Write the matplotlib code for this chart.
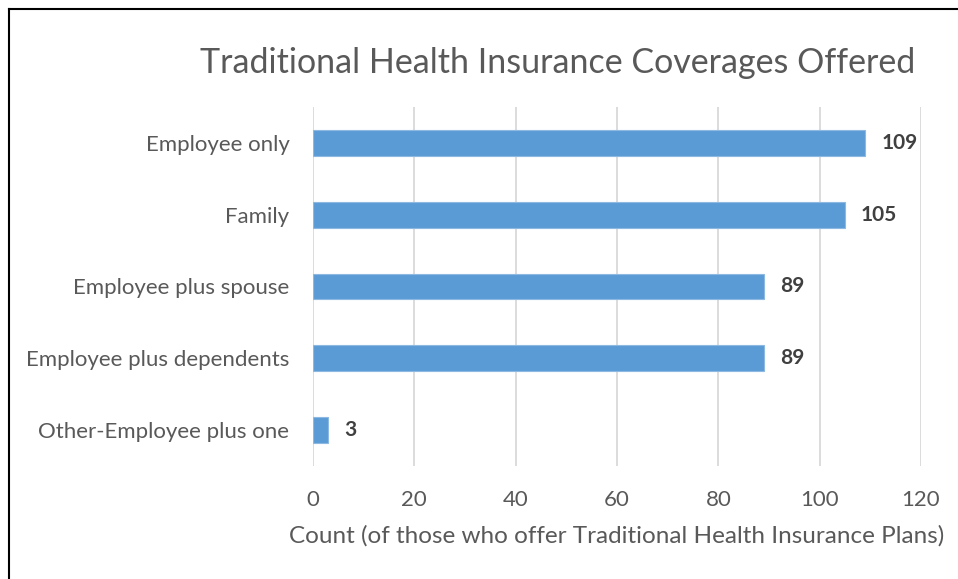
import matplotlib
matplotlib.use("Agg")
import matplotlib.pyplot as plt
from matplotlib.lines import Line2D

plt.rcParams['font.family'] = ['Lato', 'DejaVu Sans']

categories = ["Employee only", "Family", "Employee plus spouse",
              "Employee plus dependents", "Other-Employee plus one"]
counts = [109, 105, 89, 89, 3]
x_ticks = [0, 20, 40, 60, 80, 100, 120]

title = "Traditional Health Insurance Coverages Offered"
x_label = "Count (of those who offer Traditional Health Insurance Plans)"

text_gray = "#595959"
bar_blue = "#5B9BD5"

fig = plt.figure(figsize=(9.58, 5.79), dpi=100)
ax = fig.add_axes([313 / 958, 1 - 466 / 579, 608 / 958, 359 / 579])

y_pos = list(range(len(categories)))
ax.barh(y_pos, counts, height=0.36, color=bar_blue, edgecolor="#8DB8E2",
        linewidth=0.8, zorder=3)
ax.set_ylim(len(categories) - 0.5, -0.5)
ax.set_xlim(0, 120)
ax.set_xticks(x_ticks)
ax.set_yticks(y_pos)
ax.set_yticklabels(categories)

for y, v in zip(y_pos, counts):
    ax.annotate(str(v), xy=(v, y), xytext=(11.5, 0), textcoords="offset points",
                ha="left", va="center", fontsize=15, fontweight="bold",
                color="#404040")

ax.grid(axis="x", color="#D9D9D9", linewidth=1.3, zorder=0)
for s in ax.spines.values():
    s.set_visible(False)
ax.tick_params(axis="both", length=0, labelsize=16, colors=text_gray)
ax.tick_params(axis="y", pad=17)
ax.tick_params(axis="x", pad=17)
ax.set_xlabel(x_label, fontsize=17.5, color=text_gray, labelpad=11)

fig.text(558 / 958, 1 - 63 / 579, title, ha="center", va="center",
         fontsize=24.5, color=text_gray)

# outer frame (top and left edges)
fig.add_artist(Line2D([8.5 / 958, 8.5 / 958], [0, 1 - 8.5 / 579],
                      transform=fig.transFigure, color="black", linewidth=1.5))
fig.add_artist(Line2D([8.5 / 958, 1], [1 - 8.5 / 579, 1 - 8.5 / 579],
                      transform=fig.transFigure, color="black", linewidth=1.5))

fig.savefig("out.png", dpi=100, facecolor="white")
